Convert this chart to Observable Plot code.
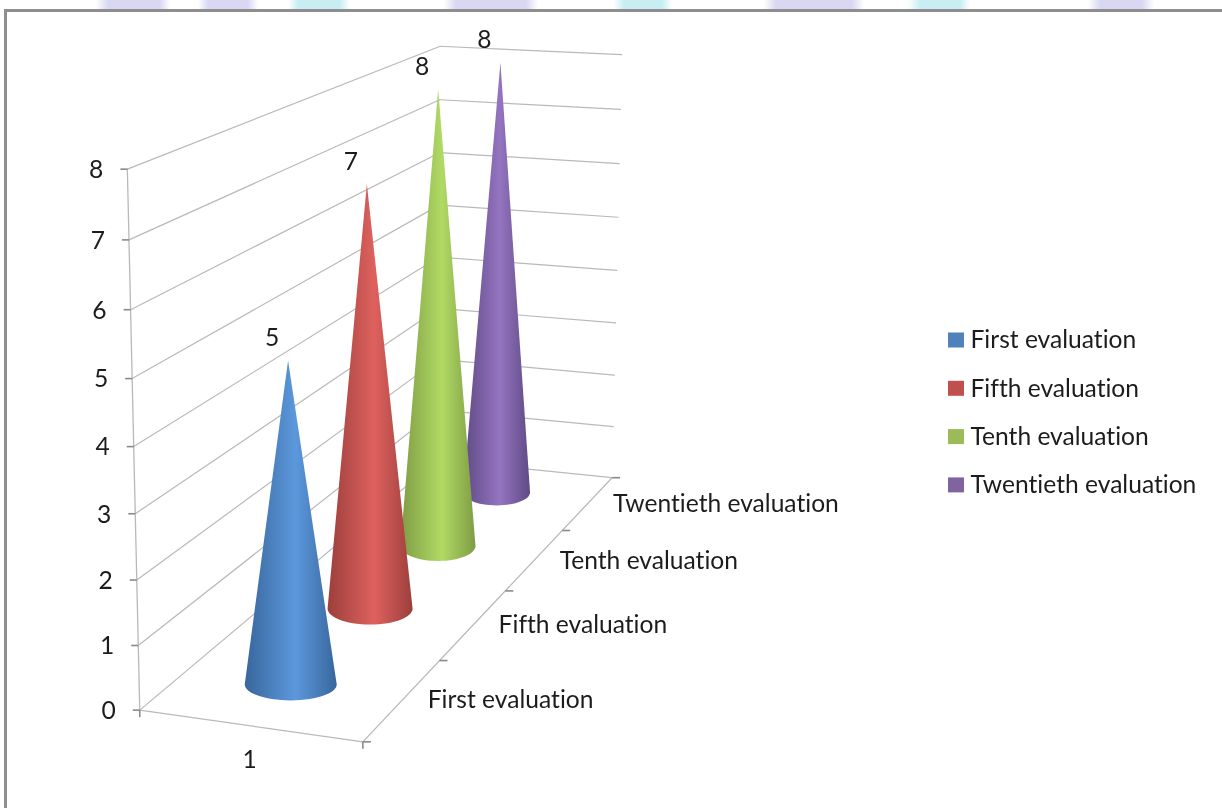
<!DOCTYPE html>
<html>
<head>
<meta charset="utf-8">
<script src="https://cdn.jsdelivr.net/npm/d3@7"></script>
<script src="https://cdn.jsdelivr.net/npm/@observablehq/plot@0.6"></script>
<style>
html,body{margin:0;padding:0;background:#fff;overflow:hidden}
#page{position:relative;width:1222px;height:808px;
background:linear-gradient(90deg,#fff 96px,#d8d8f2 108px,#d8d8f2 160px,#fff 170px,#fff 198px,#d8d8f4 208px,#d8d8f4 248px,#fff 258px,#fff 288px,#c8eef4 298px,#c8eef4 340px,#fff 350px,#fff 444px,#d8d8f2 456px,#d8d8f2 526px,#fff 538px,#fff 614px,#c8eef4 624px,#c8eef4 662px,#fff 672px,#fff 764px,#d8d8f2 776px,#d8d8f2 852px,#fff 864px,#fff 908px,#c8eef4 920px,#c8eef4 960px,#fff 970px,#fff 1088px,#d8d8f2 1100px,#d8d8f2 1142px,#fff 1154px)}
#frame{position:absolute;left:4px;top:9px;right:-4px;bottom:-4px;background:#fff;border-left:3px solid #8e8e8e;border-top:3px solid #8e8e8e}
#chart{position:absolute;left:0;top:0;filter:blur(.45px)}
</style>
</head>
<body>
<div id="page"><div id="frame"></div><div id="chart"></div></div>
<script>
window.onerror=(m)=>{document.getElementById("chart").textContent=String(m);};
// ---- data ----
const seriesNames = ["First evaluation","Fifth evaluation","Tenth evaluation","Twentieth evaluation"];
const seriesValues = [5,7,8,8];
const depthLabels = ["First evaluation","Fifth evaluation","Tenth evaluation","Twentieth evaluation"];
const valueTicks = [0,1,2,3,4,5,6,7,8];
const categoryLabels = ["1"];

// ---- styles ----
const swatch = ["#4f81bd","#c0504d","#9bbb59","#8064a2"];
const coneEdge = ["#38669c","#9c3f3c","#7f9c45","#5f4a84"];
const coneMid = ["#5c98dc","#de615e","#b0da64","#9474c0"];
const coneRx = [46,42.5,37.5,33.5];
const coneRy = [16,16,15,13];
const coneU = [.488,.48,.484,.49];
const coneDepth = [.125,.385,.635,.88];
const FONT = "Lato, Carlito, 'Open Sans', sans-serif";
const TXT = "#1c1c1c", GRID = "#b9b9b9", TICK = "#8a8a8a";
const FS = 24.6;

// ---- 3D frame: perspective camera fitted to the box of the original chart ----
// each anchor: [u (width), w (depth), v (height 0..1), screen x, screen y]
const frameAnchors = [
 [0,0,0,139,709],[1,0,0,359,741],[1,1,0,610,477],[0,1,0,437,460],
 [0,0,1,127,170],[0,1,1,441,45],[1,1,1,621,54],
 [1,.25,0,442,660],[1,.5,0,507,591],[1,.75,0,565,530],
 [0,0,.125,137.5,644],[0,0,.25,136,580],[0,0,.375,134.5,513],[0,0,.5,133,446],
 [0,0,.625,131.5,378],[0,0,.75,130,309],[0,0,.875,128.5,240],
 [1,1,.125,612,426],[1,1,.25,613,375],[1,1,.375,614,323],[1,1,.5,616,270],
 [1,1,.625,617,216],[1,1,.75,619,163],[1,1,.875,620,109]
];
function fitCamera(A){
  const n=11, M=Array.from({length:n},()=>new Array(n+1).fill(0));
  const add=(r,t)=>{for(let i=0;i<n;i++){for(let j=0;j<n;j++)M[i][j]+=r[i]*r[j];M[i][n]+=r[i]*t;}};
  for(const [u,w,v,PX,PY] of A){
    const x=PX/1000,y=PY/1000;
    add([1,u,w,v,0,0,0,0,-x*u,-x*w,-x*v],x);
    add([0,0,0,0,1,u,w,v,-y*u,-y*w,-y*v],y);
  }
  for(let i=0;i<n;i++){
    let p=i;for(let r=i+1;r<n;r++)if(Math.abs(M[r][i])>Math.abs(M[p][i]))p=r;
    [M[i],M[p]]=[M[p],M[i]];
    for(let r=0;r<n;r++){if(r===i)continue;const f=M[r][i]/M[i][i];for(let c=i;c<=n;c++)M[r][c]-=f*M[i][c];}
  }
  return M.map((row,i)=>row[n]/row[i]);
}
const cam = fitCamera(frameAnchors);
function projectPoint(u,w,value){
  const v=value/8, d=1+cam[8]*u+cam[9]*w+cam[10]*v;
  return [1000*(cam[0]+cam[1]*u+cam[2]*w+cam[3]*v)/d, 1000*(cam[4]+cam[5]*u+cam[6]*w+cam[7]*v)/d];
}
const PX=d=>d[0], PY=d=>d[1];
const depthMid = i => (i+.5)/seriesNames.length;

// ---- derived tables ----
const wallLeft = valueTicks.map(t=>[projectPoint(0,0,t),projectPoint(0,1,t)]);
const wallBack = valueTicks.map(t=>[projectPoint(0,1,t),projectPoint(1,1,t)]);
const cones = seriesNames.map((name,i)=>{
  const c=projectPoint(coneU[i],coneDepth[i],0), apex=projectPoint(coneU[i],depthMid(i),seriesValues[i]);
  const arc=d3.range(0,181,6).map(a=>[c[0]-coneRx[i]*Math.cos(a*Math.PI/180), c[1]+coneRy[i]*Math.sin(a*Math.PI/180)]);
  return {name,i,apex,outline:[apex,...arc]};
});

const defs = ()=>{
  const s=d3.create("svg:defs");
  seriesNames.forEach((_,i)=>{
    const g=s.append("linearGradient").attr("id","cone"+i).attr("x1",0).attr("x2",1).attr("y1",0).attr("y2",0);
    [[0,coneEdge[i]],[.55,coneMid[i]],[1,coneEdge[i]]].forEach(([o,c])=>g.append("stop").attr("offset",o).attr("stop-color",c));
  });
  return s.node();
};
const seg=(pairs,opts)=>pairs.map(p=>Plot.line(p,{x:PX,y:PY,...opts}));

const legendY = i => 340+48.3*i;
const plot = Plot.plot({
  width:1222,height:808,margin:0,
  style:{background:"transparent",fontFamily:FONT,overflow:"visible",fontVariantLigatures:"none"},
  x:{domain:[0,1222],range:[0,1222],axis:null},
  y:{domain:[0,808],range:[0,808],axis:null},
  marks:[
    defs,
    ...seg(wallLeft,{stroke:GRID,strokeWidth:1.2}),
    ...seg(wallBack,{stroke:GRID,strokeWidth:1.2}),
    ...seg([[projectPoint(0,0,0),projectPoint(0,0,8)],[projectPoint(0,0,0),projectPoint(1,0,0)],[projectPoint(1,0,0),projectPoint(1,1,0)]],{stroke:GRID,strokeWidth:1.3}),
    // value axis ticks
    Plot.link(valueTicks.map(t=>projectPoint(0,0,t)),{x1:d=>d[0]-7,x2:PX,y1:PY,y2:PY,stroke:TICK,strokeWidth:1.6}),
    // depth axis ticks
    Plot.link(d3.range(seriesNames.length+1).map(k=>projectPoint(1,k/seriesNames.length,0)),{x1:PX,x2:d=>d[0]+8,y1:PY,y2:PY,stroke:TICK,strokeWidth:1.6}),
    // category ticks
    Plot.link([projectPoint(0,0,0),projectPoint(1,0,0)],{x1:PX,x2:PX,y1:PY,y2:d=>d[1]+7,stroke:TICK,strokeWidth:1.6}),
    // cones, back to front
    ...cones.slice().reverse().map(c=>Plot.line(c.outline,{x:PX,y:PY,fill:`url(#cone${c.i})`,stroke:"none",curve:"linear-closed"})),
    // labels
    Plot.text(valueTicks,{x:t=>projectPoint(0,0,t)[0],y:t=>projectPoint(0,0,t)[1],text:t=>String(t),textAnchor:"end",dx:-24,dy:1,fontSize:FS,fill:TXT,fontFamily:FONT}),
    Plot.text(seriesValues,{x:(_, i)=>cones[i].apex[0],y:(_, i)=>cones[i].apex[1],text:v=>String(v),dx:-16,dy:-22,fontSize:FS,fill:TXT,fontFamily:FONT}),
    Plot.text(depthLabels,{x:(_, i)=>projectPoint(1,depthMid(i),0)[0],y:(_, i)=>projectPoint(1,depthMid(i),0)[1],text:d=>d,textAnchor:"start",dx:25,dy:1,fontSize:FS,fill:TXT,fontFamily:FONT}),
    Plot.text(categoryLabels,{x:()=>projectPoint(.5,0,0)[0],y:()=>projectPoint(.5,0,0)[1],text:d=>d,dy:34,fontSize:FS,fill:TXT,fontFamily:FONT}),
    // legend
    Plot.rect(seriesNames,{x1:()=>948,x2:()=>964,y1:(_, i)=>legendY(i)-7.5,y2:(_, i)=>legendY(i)+7.5,fill:(_, i)=>swatch[i]}),
    Plot.text(seriesNames,{x:()=>970,y:(_, i)=>legendY(i),text:d=>d,textAnchor:"start",fontSize:FS,fill:TXT,fontFamily:FONT})
  ],
  color:{type:"identity"}
});
document.getElementById("chart").append(plot);
</script>
</body>
</html>
